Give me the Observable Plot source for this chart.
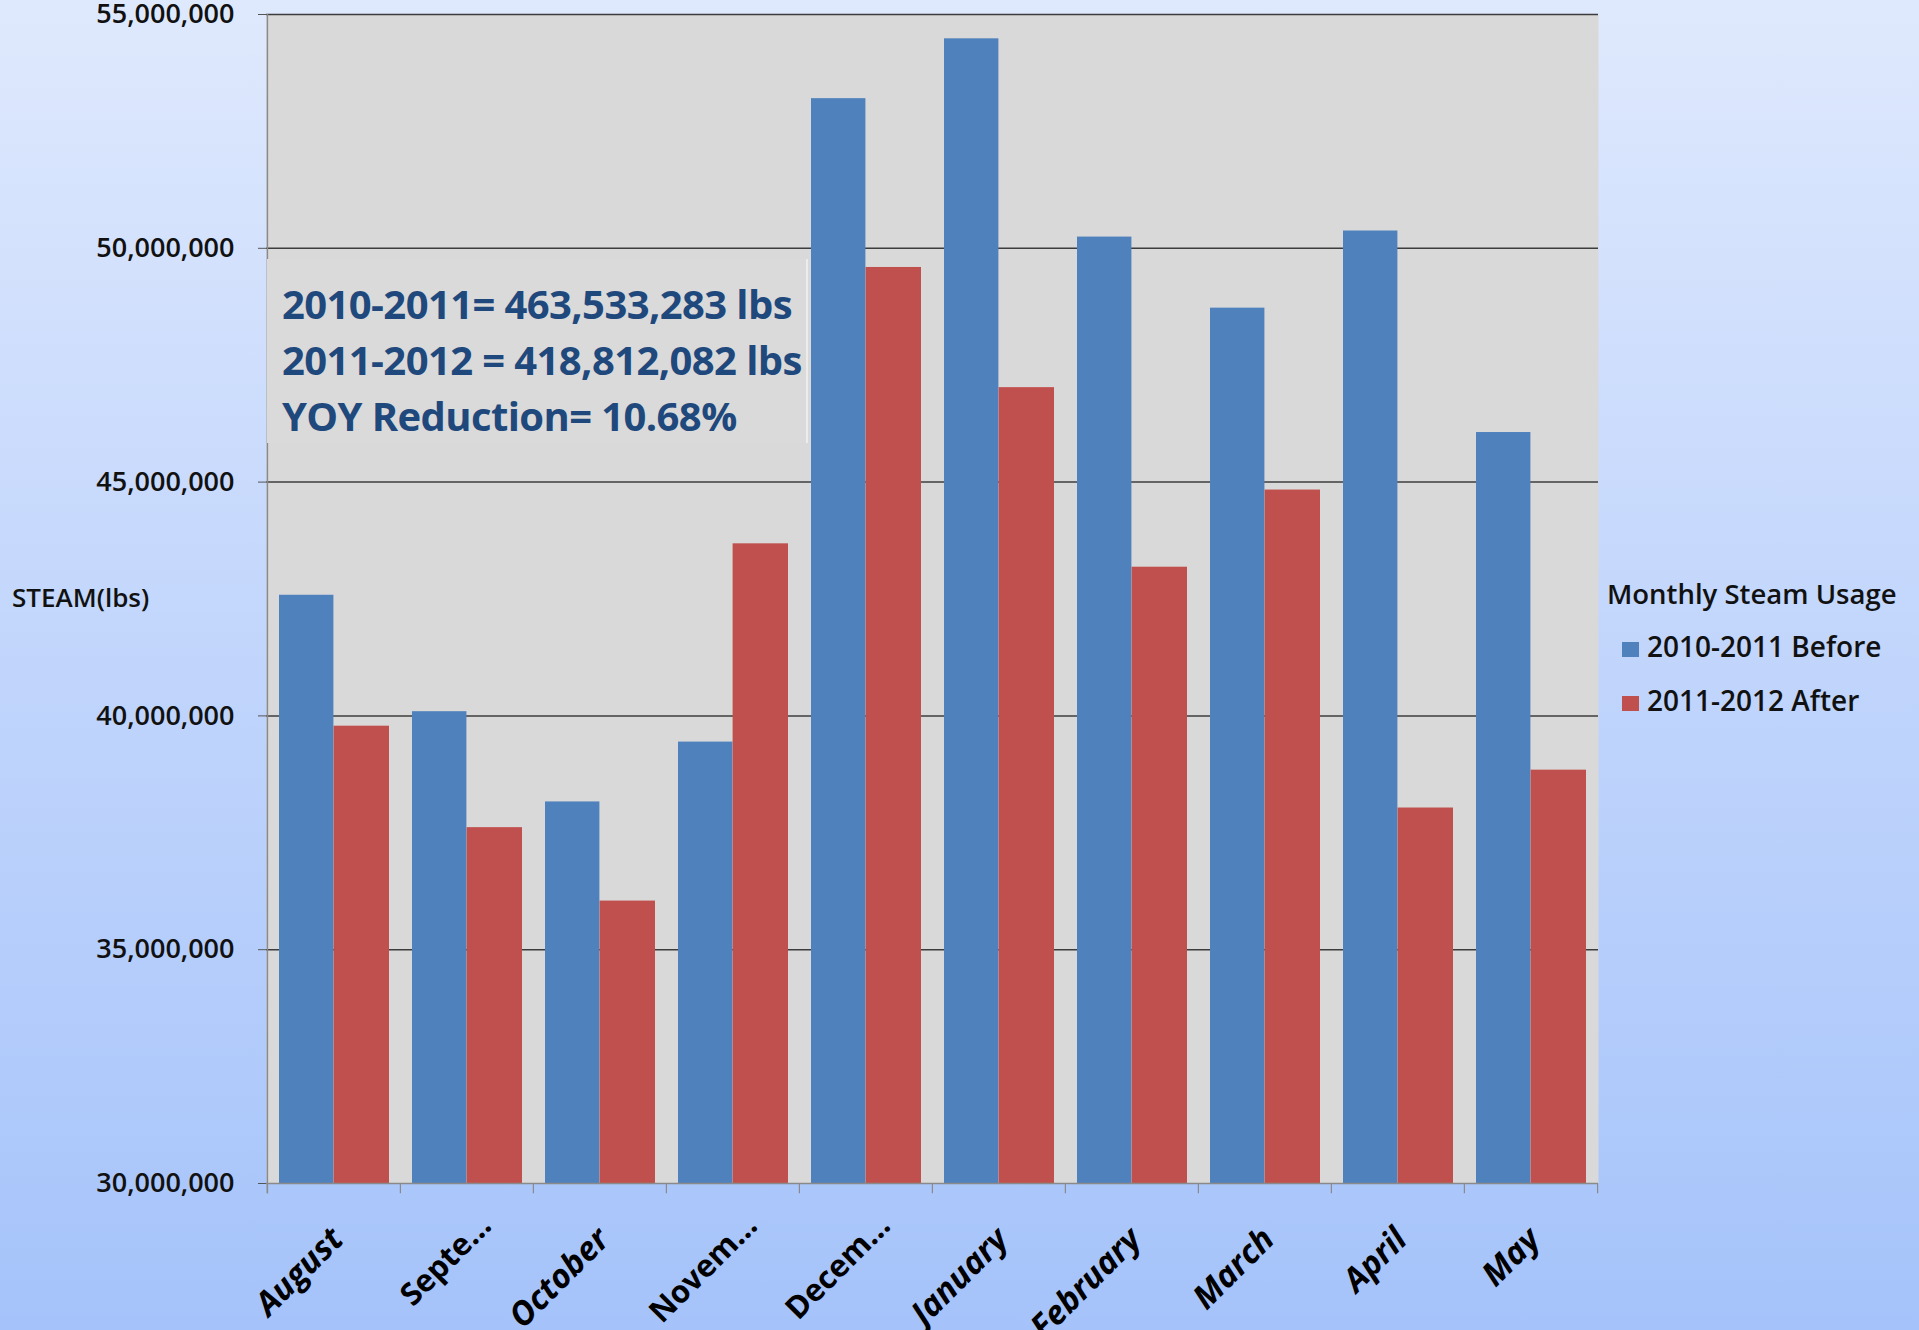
<!DOCTYPE html>
<html>
<head>
<meta charset="utf-8">
<script src="https://cdn.jsdelivr.net/npm/d3@7"></script>
<script src="https://cdn.jsdelivr.net/npm/@observablehq/plot@0.6"></script>
<style>
  html, body { margin: 0; padding: 0; }
  #wrap {
    position: relative; width: 1919px; height: 1330px; overflow: hidden;
    background: linear-gradient(to bottom, #dfe9fd 0%, #c4d7fc 45%, #a5c3fa 100%);
    font-family: "Open Sans", sans-serif;
  }
  #chart { position: absolute; left: 0; top: 0; }
  .ylab { position: absolute; left: 12px; top: 579px; font-size: 26px; font-weight: 600; color: #111; white-space: nowrap; }
  .note {
    position: absolute; left: 267px; top: 259px; width: 541px; height: 184px;
    background: #dadada; border-right: 2px solid #ececec; box-sizing: border-box;
    padding: 17px 0 0 15px; color: #1f497d; font-size: 40px; font-weight: 700;
    line-height: 56px; letter-spacing: -0.6px; white-space: nowrap;
  }
  .legend { position: absolute; left: 1607px; top: 575px; color: #111; font-weight: 600; white-space: nowrap; }
  .legend .title { font-size: 27.5px; line-height: 37px; }
  .legend .item { font-size: 28px; line-height: 38px; position: relative; padding-left: 40px; }
  .legend .sw { position: absolute; left: 15px; top: 15px; width: 17px; height: 15px; }
</style>
</head>
<body>
<div id="wrap">
  <div id="chart"></div>
  <div class="ylab">STEAM(lbs)</div>
  <div class="note" id="note"></div>
  <div class="legend" id="legend"></div>
</div>
<script>
const months = ["August", "Septe…", "October", "Novem…", "Decem…", "January", "February", "March", "April", "May"];
const before2010 = [42580000, 40090000, 38160000, 39440000, 53200000, 54480000, 50240000, 48720000, 50370000, 46060000];
const after2011 = [39780000, 37610000, 36040000, 43680000, 49590000, 47020000, 43180000, 44830000, 38030000, 38840000];
const yTicks = [30000000, 35000000, 40000000, 45000000, 50000000, 55000000];
const seriesNames = ["2010-2011 Before", "2011-2012 After"];
const seriesColors = ["#4f81bd", "#c0504d"];
const noteLines = ["2010-2011= 463,533,283 lbs", "2011-2012 = 418,812,082 lbs", "YOY Reduction= 10.68%"];
const legendTitle = "Monthly Steam Usage";

const table = months.map((m, i) => ({month: m, before: before2010[i], after: after2011[i]}));
const fullLabels = months.filter(m => !m.endsWith("…"));
const cutLabels = months.filter(m => m.endsWith("…"));

const W = 1919, H = 1330;
const mL = 266, mR = 321, mT = 14, mB = 147;
const bw = (W - mL - mR) / months.length;
const hb = bw / 2;
const tickBelow = 29780000;

const plot = Plot.plot({
  width: W, height: H,
  marginLeft: mL, marginRight: mR, marginTop: mT, marginBottom: mB,
  style: {background: "transparent", fontFamily: "Open Sans, sans-serif", overflow: "visible"},
  x: {type: "band", domain: months, padding: 0, axis: null},
  y: {domain: [30000000, 55000000], axis: null},
  marks: [
    Plot.frame({fill: "#d9d9d9", stroke: "none"}),
    Plot.ruleY(yTicks.slice(1), {stroke: "#3c3c3c", strokeWidth: 1.5}),
    Plot.barY(table, {x: "month", y1: 30000000, y2: "before", fill: seriesColors[0], insetLeft: 12, insetRight: hb}),
    Plot.barY(table, {x: "month", y1: 30000000, y2: "after", fill: seriesColors[1], insetLeft: hb, insetRight: 11}),
    Plot.ruleY([30000000], {stroke: "#8a8a8a", strokeWidth: 1.5}),
    Plot.ruleX([months[0]], {x: d => d, dx: -hb, y1: tickBelow, y2: 55000000, stroke: "#8a8a8a", strokeWidth: 1.5}),
    Plot.ruleX(months, {x: d => d, dx: -hb, y1: tickBelow, y2: 30000000, stroke: "#8a8a8a", strokeWidth: 1.2}),
    Plot.ruleX([months[months.length - 1]], {x: d => d, dx: hb, y1: tickBelow, y2: 30000000, stroke: "#8a8a8a", strokeWidth: 1.2}),
    Plot.axisY(yTicks, {tickFormat: d3.format(","), tickSize: 8, tickPadding: 24, fontSize: 27, fontWeight: 600, fill: "#111", stroke: "#555", label: null}),
    Plot.text(fullLabels, {x: d => d, y: 30000000, dx: 11, dy: 58, rotate: -45, textAnchor: "end", lineAnchor: "bottom",
      fontSize: 33, fontStyle: "italic", fontWeight: 700, fill: "#000", letterSpacing: -0.5}),
    Plot.text(cutLabels, {x: d => d, y: 30000000, dx: 26, dy: 44, rotate: -45, textAnchor: "end", lineAnchor: "bottom",
      fontSize: 31, fontWeight: 700, fill: "#000", letterSpacing: -1})
  ]
});
document.getElementById("chart").appendChild(plot);

const note = document.getElementById("note");
noteLines.forEach(t => { const d = document.createElement("div"); d.textContent = t; note.appendChild(d); });

const legend = document.getElementById("legend");
const tt = document.createElement("div"); tt.className = "title"; tt.textContent = legendTitle; legend.appendChild(tt);
seriesNames.forEach((s, i) => {
  const it = document.createElement("div"); it.className = "item";
  it.style.marginTop = i === 0 ? "15px" : "16px";
  const sw = document.createElement("span"); sw.className = "sw"; sw.style.background = seriesColors[i];
  it.appendChild(sw); it.appendChild(document.createTextNode(s));
  legend.appendChild(it);
});
</script>
</body>
</html>
